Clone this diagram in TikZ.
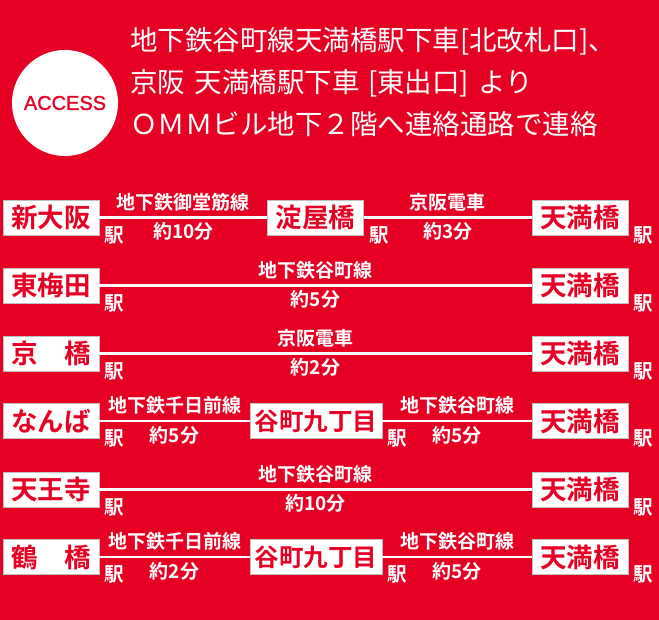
\documentclass[tikz,border=0pt]{standalone}
\usepackage{fontspec}
\setmainfont{Noto Sans CJK JP}[BoldFont={Noto Sans CJK JP Bold}]
\newfontfamily\latinsf{Liberation Sans}[FakeBold=1.2]
\usetikzlibrary{positioning}
\definecolor{accred}{RGB}{230,0,35}
\newcommand{\fsz}[1]{\fontsize{#1}{#1}\selectfont}

\begin{document}
\begin{tikzpicture}[x=1pt,y=-1pt,
  stn/.style={fill=white,draw=black!25,line width=0.8pt,text=accred,
    font=\bfseries\fsz{26.5},minimum width=96pt,minimum height=35pt,inner sep=0pt},
  wide/.style={minimum width=132pt,font=\bfseries\fsz{24.5}},
  rail/.style={draw=white,line width=2.6pt},
  lab/.style={text=white,font=\bfseries\fsz{19},inner sep=0pt},
  eki/.style={text=white,font=\bfseries\fsz{19.5},inner sep=0pt,anchor=west},
  head/.style={text=white,font=\fsz{27.5},inner sep=0pt,anchor=west}]
  % background
  \useasboundingbox (0,0) rectangle (659,620);
  \fill[accred] (0,0) rectangle (659,620);

  % ACCESS badge and heading
  \node[circle,fill=white,minimum size=106pt,inner sep=0pt,text=accred,
    font=\latinsf\fsz{20}] (access) at (65,103) {ACCESS};
  \node[head] (head1) at (130,41) {地下鉄谷町線天満橋駅下車[北改札口]、};
  \node[head] (head2) at (130,83)
    {京阪\hspace{0.35em}天満橋駅下車\hspace{0.3em}[東出口]\hspace{0.33em}より};
  \node[head] (head3) at (130,124.5) {ＯＭＭビル地下２階へ連絡通路で連絡};

  % Shin-Osaka -> Yodoyabashi -> Temmabashi
  \node[stn] (shin) at (51,217.5) {新大阪};
  \node[stn] (yodo) at (315.5,217.5) {淀屋橋};
  \node[stn] (tenA) at (580,217.5) {天満橋};
  \draw[rail] (shin) -- node[lab,above=5pt] (midoA) {地下鉄御堂筋線}
    node[lab,below=4pt] (timeA) {約10分} (yodo);
  \draw[rail] (yodo) -- node[lab,above=5pt] (keihanA) {京阪電車}
    node[lab,below=4pt] (timeB) {約3分} (tenA);

  % direct rows
  \foreach \n/\name/\y/\rl/\t in {umeda/東梅田/285.5/地下鉄谷町線/約5分,
      kyo/京　橋/353.5/京阪電車/約2分,
      tenno/天王寺/489.5/地下鉄谷町線/約10分} {
    \node[stn] (\n) at (51,\y) {\name};
    \node[stn] (ten-\n) at (580,\y) {天満橋};
    \draw[rail] (\n) -- node[lab,above=5pt] (rl-\n) {\rl}
      node[lab,below=4pt] (t-\n) {\t} (ten-\n);
  }

  % Namba -> Tanimachi 9-chome -> Temmabashi
  \node[stn] (namba) at (51,421) {なんば};
  \node[stn,wide] (taniA) at (316,421) {谷町九丁目};
  \node[stn] (tenD) at (580,421) {天満橋};
  \draw[rail] (namba) -- node[lab,above=5pt] (senA) {地下鉄千日前線}
    node[lab,below=4pt] (timeD) {約5分} (taniA);
  \draw[rail] (taniA) -- node[lab,above=5pt] (taniLA) {地下鉄谷町線}
    node[lab,below=4pt] (timeE) {約5分} (tenD);

  % Tsuruhashi -> Tanimachi 9-chome -> Temmabashi
  \node[stn] (tsuru) at (51,557) {鶴　橋};
  \node[stn,wide] (taniB) at (316,557) {谷町九丁目};
  \node[stn] (tenF) at (580,557) {天満橋};
  \draw[rail] (tsuru) -- node[lab,above=5pt] (senB) {地下鉄千日前線}
    node[lab,below=4pt] (timeF) {約2分} (taniB);
  \draw[rail] (taniB) -- node[lab,above=5pt] (taniLB) {地下鉄谷町線}
    node[lab,below=4pt] (timeG) {約5分} (tenF);

  % station marks
  \foreach \b in {shin,yodo,tenA,umeda,ten-umeda,kyo,ten-kyo,namba,taniA,tenD,
      tenno,ten-tenno,tsuru,taniB,tenF}
    \node[eki] (eki-\b) at ([xshift=5pt]\b.south east) {駅};
\end{tikzpicture}
\end{document}
